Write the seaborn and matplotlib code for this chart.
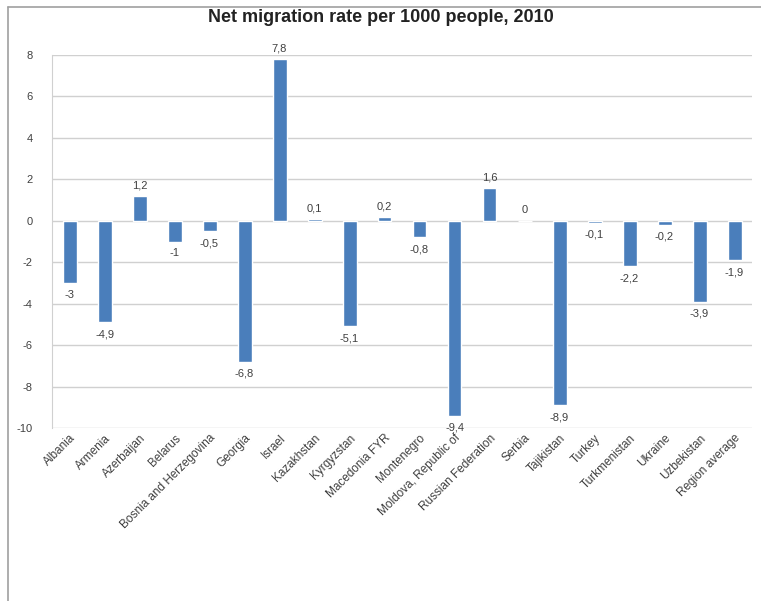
import matplotlib
matplotlib.use("Agg")
import matplotlib.pyplot as plt
import seaborn as sns
import pandas as pd
from matplotlib.lines import Line2D

countries = ["Albania", "Armenia", "Azerbaijan", "Belarus", "Bosnia and Herzegovina",
             "Georgia", "Israel", "Kazakhstan", "Kyrgyzstan", "Macedonia FYR",
             "Montenegro", "Moldova, Republic of", "Russian Federation", "Serbia",
             "Tajikistan", "Turkey", "Turkmenistan", "Ukraine", "Uzbekistan", "Region average"]
rates = [-3, -4.9, 1.2, -1, -0.5, -6.8, 7.8, 0.1, -5.1, 0.2,
         -0.8, -9.4, 1.6, 0, -8.9, -0.1, -2.2, -0.2, -3.9, -1.9]
yticks = [-10, -8, -6, -4, -2, 0, 2, 4, 6, 8]

df = pd.DataFrame({"country": countries, "rate": rates})

sns.set_style("white")
plt.rcParams['font.family'] = ['Arial', 'Liberation Sans', 'DejaVu Sans']

fig = plt.figure(figsize=(7.61, 6.01), dpi=100)
ax = fig.add_axes([52/761, 1-428/601, 700/761, 373/601])

sns.barplot(data=df, x="country", y="rate", color="#4a7ebb", width=0.4,
            saturation=1, ax=ax, zorder=3)

ax.set_ylim(-10, 8)
ax.set_xlim(-0.5, len(countries) - 0.5)
ax.set_yticks(yticks)
ax.set_yticklabels([str(t) for t in yticks], fontsize=8, color="#404040")
ax.yaxis.grid(True, color="#d0d0d0", linewidth=1, zorder=0)
ax.set_axisbelow(True)
for s in ["top", "right", "bottom"]:
    ax.spines[s].set_visible(False)
ax.spines["left"].set_color("#d0d0d0")
ax.tick_params(axis="y", length=0, pad=14)
ax.tick_params(axis="x", length=0, pad=3)
ax.set_xlabel("")
ax.set_ylabel("")
ax.set_xticks(range(len(countries)))
ax.set_xticklabels(countries, rotation=45, ha="right", rotation_mode="anchor",
                   fontsize=8.5, color="#404040")

for i, v in enumerate(rates):
    lab = (f"{v:g}").replace(".", ",")
    if v >= 0:
        ax.annotate(lab, (i, v), xytext=(0, 4), textcoords="offset points",
                    ha="center", va="bottom", fontsize=8, color="#404040")
    else:
        ax.annotate(lab, (i, v), xytext=(0, -5), textcoords="offset points",
                    ha="center", va="top", fontsize=8, color="#404040")

fig.text(0.5, 1-18/601, "Net migration rate per 1000 people, 2010", ha="center",
         va="center", fontsize=13, fontweight="bold", color="#222222")

fig.add_artist(Line2D([8/761, 8/761], [0, 1-7/601], transform=fig.transFigure,
                      color="#a0a0a0", linewidth=1.2))
fig.add_artist(Line2D([8/761, 1], [1-7/601, 1-7/601], transform=fig.transFigure,
                      color="#a0a0a0", linewidth=1.2))

fig.savefig("out.png", dpi=100)
